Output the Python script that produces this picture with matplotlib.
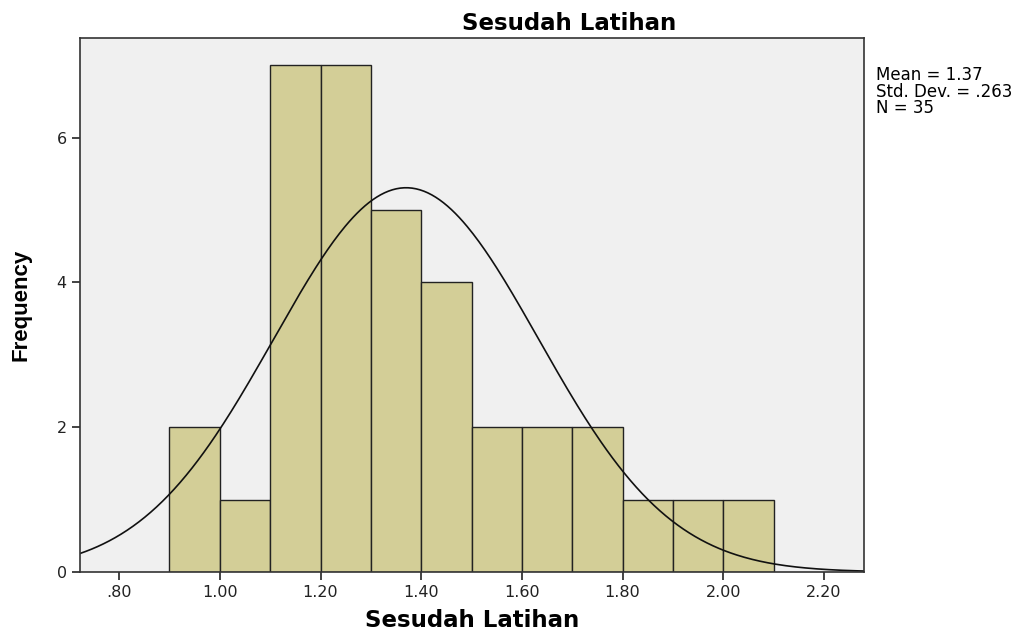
import numpy as np
import matplotlib
matplotlib.use("Agg")
import matplotlib.pyplot as plt

bin_edges = [0.9, 1.0, 1.1, 1.2, 1.3, 1.4, 1.5, 1.6, 1.7, 1.8, 1.9, 2.0, 2.1]
counts = [2, 1, 7, 7, 5, 4, 2, 2, 2, 1, 1, 1]
mean = 1.37
std = 0.263
n = 35
xticks = [0.8, 1.0, 1.2, 1.4, 1.6, 1.8, 2.0, 2.2]
xticklabels = [".80", "1.00", "1.20", "1.40", "1.60", "1.80", "2.00", "2.20"]
yticks = [0, 2, 4, 6]

plt.rcParams['font.family'] = ['DejaVu Sans']
fig = plt.figure(figsize=(10.24, 6.31), dpi=100)
ax = fig.add_axes([0.078, 0.0935, 0.766, 0.8465])
ax.set_facecolor('#F0F0F0')

widths = np.diff(bin_edges)
ax.bar(bin_edges[:-1], counts, width=widths, align='edge',
       color='#D3CE97', edgecolor='#222222', linewidth=1.0)

xmin, xmax = 0.722, 2.28
xs = np.linspace(xmin, xmax, 400)
bw = bin_edges[1] - bin_edges[0]
ys = n * bw / (std * np.sqrt(2 * np.pi)) * np.exp(-0.5 * ((xs - mean) / std) ** 2)
ax.plot(xs, ys, color='#111111', linewidth=1.2)

ax.set_xlim(xmin, xmax)
ax.set_ylim(0, 7.38)
ax.set_xticks(xticks)
ax.set_xticklabels(xticklabels)
ax.set_yticks(yticks)
ax.tick_params(axis='both', direction='out', length=6, width=1.2, labelsize=11.5,
               colors='#222222')
for s in ax.spines.values():
    s.set_color('#333333')
    s.set_linewidth(1.2)

fig.text(0.556, 0.952, 'Sesudah Latihan', fontsize=16.5, fontweight='bold',
         ha='center', va='baseline')
ax.set_xlabel('Sesudah Latihan', fontsize=16.5, fontweight='bold', labelpad=6)
ax.set_ylabel('Frequency', fontsize=16, fontweight='bold',
              family=['Liberation Sans Narrow', 'Liberation Sans', 'DejaVu Sans'], labelpad=18)

fig.text(0.855, 0.895, "Mean = 1.37\nStd. Dev. = .263\nN = 35", fontsize=12,
         va='top', ha='left', linespacing=0.9)

fig.savefig('out.png', dpi=100)
